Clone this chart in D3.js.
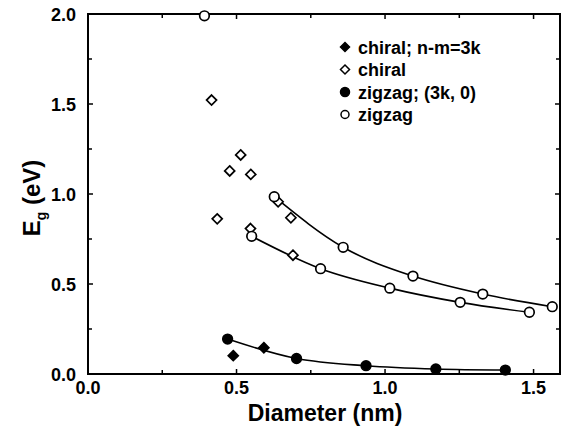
<!DOCTYPE html>
<html>
<head>
<meta charset="utf-8">
<script src="https://cdn.jsdelivr.net/npm/d3@7"></script>
<style>
  body { margin: 0; background: #fff; }
  text { font-family: "Liberation Sans", Arial, sans-serif; font-weight: bold; fill: #000; }
</style>
</head>
<body>
<div id="chart"></div>
<script>
// zigzag, open circles (two fitted branches + one lone point)
let zigzagUpperD = [0.627, 0.859, 1.094, 1.329, 1.563];
let zigzagUpperE = [0.985, 0.704, 0.544, 0.444, 0.374];
let zigzagLowerD = [0.551, 0.783, 1.016, 1.253, 1.486];
let zigzagLowerE = [0.765, 0.585, 0.477, 0.398, 0.343];
let zigzagLoneD = [0.392];
let zigzagLoneE = [1.99];

// zigzag (3k, 0), filled circles
let zigzag3kD = [0.470, 0.702, 0.936, 1.171, 1.405];
let zigzag3kE = [0.194, 0.086, 0.046, 0.028, 0.022];

// chiral, open diamonds
let chiralD = [0.416, 0.435, 0.477, 0.514, 0.548, 0.547, 0.640, 0.683, 0.690];
let chiralE = [1.522, 0.862, 1.128, 1.217, 1.109, 0.808, 0.957, 0.868, 0.660];

// chiral n-m=3k, filled diamonds
let chiral3kD = [0.489, 0.592];
let chiral3kE = [0.102, 0.146];

let xTicks = [0, 0.5, 1.0, 1.5];
let xMinor = [0.25, 0.75, 1.25];
let yTicks = [0, 0.5, 1.0, 1.5, 2.0];
let yMinor = [0.25, 0.75, 1.25, 1.75];

let legendLabels = ["chiral; n-m=3k", "chiral", "zigzag; (3k, 0)", "zigzag"];

let width = 561, height = 428;
let plotL = 88, plotR = 560, plotT = 14, plotB = 374;

let svg = d3.select("#chart").append("svg")
    .attr("width", width)
    .attr("height", height);

svg.append("rect").attr("width", width).attr("height", height).attr("fill", "#fff");

let x = d3.scaleLinear().domain([0, 1.589]).range([plotL, plotR]);
let y = d3.scaleLinear().domain([0, 2]).range([plotB, plotT]);

let zip = (a, b) => a.map((v, i) => [v, b[i]]);

// ticks pointing inward on all four sides
let tickG = svg.append("g").attr("stroke", "#000").attr("stroke-width", 1.5);
let drawTicks = (vals, len) => {
    vals.forEach(v => {
        tickG.append("line").attr("x1", x(v)).attr("x2", x(v)).attr("y1", plotB).attr("y2", plotB - len);
        tickG.append("line").attr("x1", x(v)).attr("x2", x(v)).attr("y1", plotT).attr("y2", plotT + len);
    });
};
let drawYTicks = (vals, len) => {
    vals.forEach(v => {
        tickG.append("line").attr("y1", y(v)).attr("y2", y(v)).attr("x1", plotL).attr("x2", plotL + len);
        tickG.append("line").attr("y1", y(v)).attr("y2", y(v)).attr("x1", plotR).attr("x2", plotR - len);
    });
};
drawTicks(xTicks, 5);
drawTicks(xMinor, 4);
drawYTicks(yTicks, 5);
drawYTicks(yMinor, 4);

// frame
svg.append("rect")
    .attr("x", plotL).attr("y", plotT)
    .attr("width", plotR - plotL).attr("height", plotB - plotT)
    .attr("fill", "none").attr("stroke", "#000").attr("stroke-width", 2);

// tick labels
svg.append("g").selectAll("text").data(xTicks).join("text")
    .attr("x", d => x(d)).attr("y", 394)
    .attr("text-anchor", "middle")
    .style("font-size", "18px")
    .text(d => d3.format(".1f")(d));

svg.append("g").selectAll("text").data(yTicks).join("text")
    .attr("x", 76).attr("y", d => y(d) + 6.5)
    .attr("text-anchor", "end")
    .style("font-size", "18px")
    .text(d => d3.format(".1f")(d));

// axis titles
svg.append("text")
    .attr("x", (plotL + plotR) / 2 + 1).attr("y", 421)
    .attr("text-anchor", "middle")
    .style("font-size", "23px")
    .text("Diameter (nm)");

let yTitle = svg.append("text")
    .attr("transform", "translate(40,198) rotate(-90)")
    .attr("text-anchor", "middle")
    .style("font-size", "24px");
yTitle.append("tspan").text("E");
yTitle.append("tspan").attr("dy", 6).style("font-size", "14px").text("g");
yTitle.append("tspan").attr("dy", -6).text(" (eV)");

// fitted lines
let line = d3.line().x(d => x(d[0])).y(d => y(d[1])).curve(d3.curveMonotoneX);
[zip(zigzagUpperD, zigzagUpperE), zip(zigzagLowerD, zigzagLowerE), zip(zigzag3kD, zigzag3kE)].forEach(pts => {
    svg.append("path").attr("d", line(pts))
        .attr("fill", "none").attr("stroke", "#000").attr("stroke-width", 1.6);
});

// markers
let diamond = (s) => `M0,${-s}L${s},0L0,${s}L${-s},0Z`;

let drawDiamonds = (pts, filled, s) => {
    svg.append("g").selectAll("path").data(pts).join("path")
        .attr("transform", d => `translate(${x(d[0])},${y(d[1])})`)
        .attr("d", diamond(s))
        .attr("fill", filled ? "#000" : "#fff")
        .attr("stroke", "#000").attr("stroke-width", 1.7);
};
let drawCircles = (pts, filled, r) => {
    svg.append("g").selectAll("circle").data(pts).join("circle")
        .attr("cx", d => x(d[0])).attr("cy", d => y(d[1]))
        .attr("r", r)
        .attr("fill", filled ? "#000" : "#fff")
        .attr("stroke", "#000").attr("stroke-width", 1.7);
};

drawDiamonds(zip(chiralD, chiralE), false, 5);
drawCircles(zip(zigzagUpperD, zigzagUpperE), false, 4.8);
drawCircles(zip(zigzagLowerD, zigzagLowerE), false, 4.8);
drawCircles(zip(zigzagLoneD, zigzagLoneE), false, 4.8);
drawCircles(zip(zigzag3kD, zigzag3kE), true, 4.8);
drawDiamonds(zip(chiral3kD, chiral3kE), true, 5);

// legend
let legend = svg.append("g").attr("transform", "translate(345,47)");
legendLabels.forEach((lab, i) => {
    let g = legend.append("g").attr("transform", `translate(0,${i * 22.5})`);
    if (i < 2) {
        g.append("path").attr("d", diamond(4.5))
            .attr("fill", i === 0 ? "#000" : "#fff")
            .attr("stroke", "#000").attr("stroke-width", 1.5);
    } else {
        g.append("circle").attr("r", i === 2 ? 4.5 : 4)
            .attr("fill", i === 2 ? "#000" : "#fff")
            .attr("stroke", "#000").attr("stroke-width", 1.5);
    }
    g.append("text").attr("x", 13).attr("y", 6.5)
        .style("font-size", "18px")
        .text(lab);
});
</script>
</body>
</html>
